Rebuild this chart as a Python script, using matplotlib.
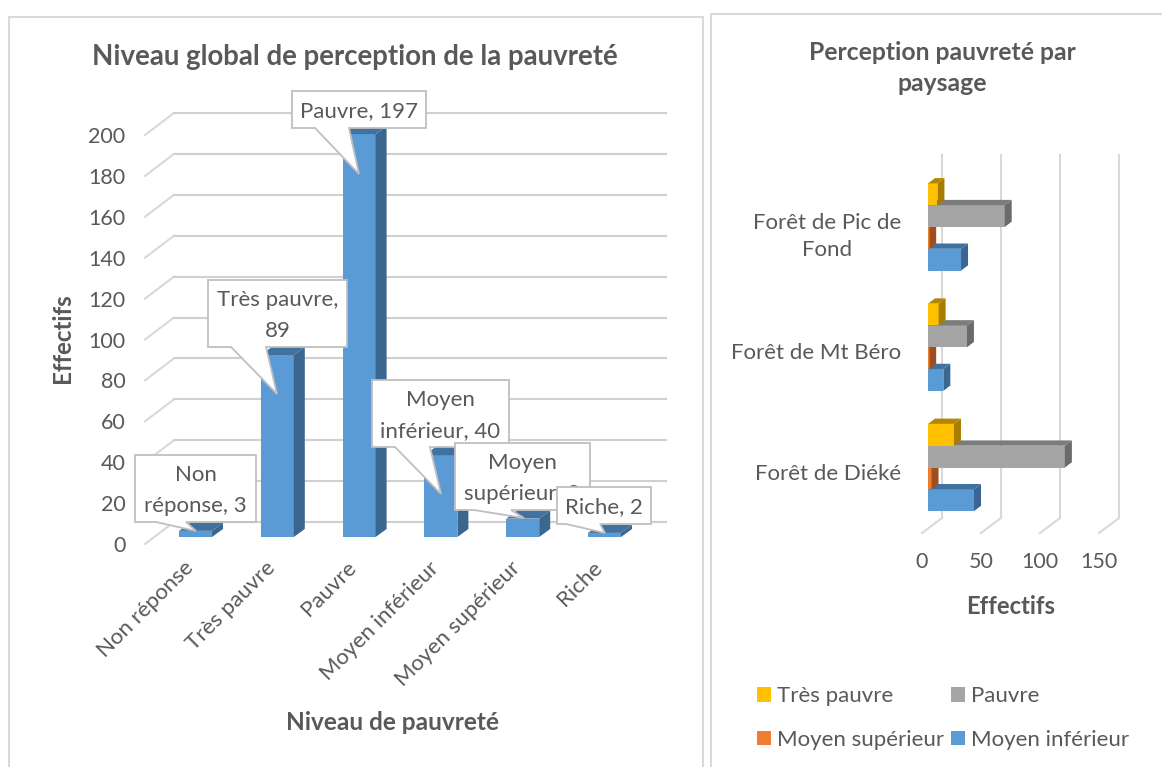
import matplotlib.pyplot as plt
from matplotlib.patches import Polygon, Rectangle
from matplotlib.transforms import Affine2D, ScaledTranslation

plt.rcParams['font.family'] = ['Lato', 'DejaVu Sans']
TXT = '#595959'

# données
niveaux = ['Non réponse', 'Très pauvre', 'Pauvre', 'Moyen inférieur', 'Moyen supérieur', 'Riche']
effectifs = [3, 89, 197, 40, 9, 2]
bulles = ['Non\nréponse, 3', 'Très pauvre,\n89', 'Pauvre, 197', 'Moyen\ninférieur, 40', 'Moyen\nsupérieur, 9', 'Riche, 2']
ticks_g = list(range(0, 201, 20))

paysages = ['Forêt de Diéké', 'Forêt de Mt Béro', 'Forêt de Pic de\nFond']
tres_pauvre = [22, 9, 8]
pauvre = [116, 33, 65]
moyen_sup = [3, 1, 1]
moyen_inf = [39, 13, 28]
ticks_d = [0, 50, 100, 150]

W, H = 1162, 767
fig = plt.figure(figsize=(W / 100, H / 100), dpi=100)
# repere en pixels, origine en haut a gauche
P = Affine2D().scale(1 / W, -1 / H).translate(0, 1) + fig.transFigure


def box(x0, y0, x1, y1):
    return [x0 / W, 1 - y1 / H, (x1 - x0) / W, (y1 - y0) / H]


# cadres des deux graphiques
for x0, y0, x1 in [(9, 17, 703), (711, 14, 1170)]:
    fig.add_artist(Rectangle((x0, y0), x1 - x0, 770, transform=P, fc='white', ec='#d9d9d9', lw=1.5, zorder=-1))

# ---------- graphique de gauche ----------
ax = fig.add_axes(box(145, 135, 637, 544))
step = 81.8
ax.set_xlim((145 - 195.5) / step, (637 - 195.5) / step)
ax.set_ylim(0, 200)
ux = 1 / step            # 1 px en x
uy = 200 / 409           # 1 px en y
ax.patch.set_alpha(0)
for s in ax.spines.values():
    s.set_visible(False)

xl = ax.get_xlim()
for t in ticks_g:
    ax.plot([xl[0], xl[0] + 29 * ux], [t, t + 22 * uy], color='#d9d9d9', lw=1.5, clip_on=False, zorder=1)
    ax.plot([xl[0] + 29 * ux, xl[1] + 29 * ux], [t + 22 * uy] * 2, color='#d0d0d0', lw=1.5, clip_on=False, zorder=1)

base = 7 * uy
bw = 33 * ux
xs = list(range(len(niveaux)))
ax.bar(xs, effectifs, width=bw, bottom=base, color='#5B9BD5', zorder=3, clip_on=False)
for i, v in zip(xs, effectifs):
    r = i + bw / 2
    l = i - bw / 2
    t = base + v
    ax.add_patch(Polygon([(r, base), (r + 11 * ux, base + 8 * uy), (r + 11 * ux, t + 8 * uy), (r, t)],
                         fc='#3A668F', ec='none', zorder=3, clip_on=False))
    ax.add_patch(Polygon([(l, t), (r, t), (r + 11 * ux, t + 8 * uy), (l + 11 * ux, t + 8 * uy)],
                         fc='#41729F', ec='none', zorder=3, clip_on=False))

ax.set_yticks(ticks_g)
ax.set_xticks(xs)
ax.set_xticklabels(niveaux, rotation=45, ha='right', va='center', rotation_mode='anchor')
ax.tick_params(axis='both', length=0, labelcolor=TXT, labelsize=16)
ax.tick_params(axis='y', pad=14, labelsize=15.5)
ax.tick_params(axis='x', pad=12)
decal_x = ScaledTranslation(-4 / 72, -3 / 72, fig.dpi_scale_trans)
for lab in ax.get_xticklabels():
    lab.set_transform(lab.get_transform() + decal_x)

# bulles : rectangle en pixels + pointe
rects = [(135, 455, 256, 522), (208, 280, 347, 347), (292, 91, 426, 128),
         (372, 380, 509, 447), (455, 443, 590, 510), (557, 487, 651, 524)]
pointes = [(156, 186, 196, 531), (231, 266, 277, 394), (315, 349, 359, 174),
           (395, 430, 441, 494), (474, 511, 524, 518), (566, 600, 605, 533)]
for k, (lab, r, p) in enumerate(zip(bulles, rects, pointes)):
    x0, y0, x1, y1 = r
    a, b, tx, ty = p
    ax.add_patch(Polygon([(x0, y0), (x1, y0), (x1, y1), (b, y1), (tx, ty), (a, y1), (x0, y1)],
                         transform=P, fc='white', ec='#bfbfbf', lw=1.3, zorder=5 + k, clip_on=False))
    ax.text((x0 + x1) / 2, (y0 + y1) / 2 + 2, lab, transform=P, ha='center', va='center', color=TXT,
            fontsize=16, linespacing=1.65, zorder=5 + k)

fig.text(355 / W, 1 - 57 / H, 'Niveau global de perception de la pauvreté', ha='center', va='center',
         fontsize=19.9, fontweight='bold', color=TXT)
fig.text(392 / W, 1 - 723 / H, 'Niveau de pauvreté', ha='center', va='center',
         fontsize=17.6, fontweight='bold', color=TXT)
fig.text(63 / W, 1 - 338 / H, 'Effectifs', ha='center', va='center', rotation=90,
         fontsize=17.4, fontweight='bold', color=TXT)

# ---------- graphique de droite ----------
ax2 = fig.add_axes(box(922, 170, 1099, 533))
gstep = 120.25
ax2.set_xlim(0, 150)
ax2.set_ylim(-(533 - 467.5) / gstep, (467.5 - 170) / gstep)
vx = 150 / 177
vy = 1 / gstep
ax2.patch.set_alpha(0)
for s in ax2.spines.values():
    s.set_visible(False)
yb = ax2.get_ylim()
for t in ticks_d:
    ax2.plot([t, t + 20 * vx], [yb[0], yb[0] + 15 * vy], color='#d9d9d9', lw=1.5, clip_on=False, zorder=1)
    ax2.plot([t + 20 * vx] * 2, [yb[0] + 15 * vy, yb[1] + 15 * vy], color='#d9d9d9', lw=1.5, clip_on=False, zorder=1)

series = [('Très pauvre', tres_pauvre, '#FFC000', '#B38600', '#A67D00'),
          ('Pauvre', pauvre, '#A5A5A5', '#7C7C7C', '#6B6B6B'),
          ('Moyen supérieur', moyen_sup, '#ED7D31', '#A5551F', '#9E4F1D'),
          ('Moyen inférieur', moyen_inf, '#5B9BD5', '#41729F', '#3A668F')]
h = 21.8 * vy
left = 6 * vx
ypos = [0, 1, 2]
handles = {}
for n, (name, vals, c, ctop, cside) in enumerate(series):
    off = (1.5 - n) * h
    # la barre du dessus recouvre celle du dessous
    z = 8 - n
    cont = ax2.barh([y + off for y in ypos], vals, height=h, left=left, color=c, zorder=z, clip_on=False)
    handles[name] = cont
    for y, v in zip(ypos, vals):
        b = y + off - h / 2
        tp = y + off + h / 2
        e = left + v
        ax2.add_patch(Polygon([(e, b), (e + 7 * vx, b + 5.3 * vy), (e + 7 * vx, tp + 5.3 * vy), (e, tp)],
                              fc=cside, ec='none', zorder=z, clip_on=False))
        ax2.add_patch(Polygon([(left, tp), (e, tp), (e + 7 * vx, tp + 5.3 * vy), (left + 7 * vx, tp + 5.3 * vy)],
                              fc=ctop, ec='none', zorder=z, clip_on=False))

ax2.set_xticks(ticks_d)
ax2.set_yticks(ypos)
ax2.set_yticklabels(paysages, ha='right', multialignment='center', linespacing=1.45)
ax2.tick_params(axis='x', length=0, labelcolor=TXT, labelsize=15.5, pad=14)
ax2.tick_params(axis='y', length=0, labelcolor=TXT, labelsize=16, pad=15)
# libelles un peu plus bas que le centre des groupes
decal = ScaledTranslation(0, -3 / 72, fig.dpi_scale_trans)
for lab in ax2.get_yticklabels():
    lab.set_transform(lab.get_transform() + decal)

fig.text(942 / W, 1 - 68 / H, 'Perception pauvreté par\npaysage', ha='center', va='center',
         fontsize=17.8, fontweight='bold', color=TXT, linespacing=1.45)
fig.text(1011 / W, 1 - 606 / H, 'Effectifs', ha='center', va='center',
         fontsize=17.2, fontweight='bold', color=TXT)

ordre = [series[0], series[2], series[1], series[3]]
leg = ax2.legend([handles[s[0]] for s in ordre], [s[0] for s in ordre], ncol=2,
                 loc='center left', bbox_to_anchor=(757 / W, 1 - 718 / H), bbox_transform=fig.transFigure,
                 frameon=False, fontsize=16, labelcolor=TXT, handlelength=0.63, handleheight=0.63,
                 handletextpad=0.27, labelspacing=1.06, columnspacing=0.32, borderpad=0, borderaxespad=0)

fig.savefig('out.png', dpi=100)
